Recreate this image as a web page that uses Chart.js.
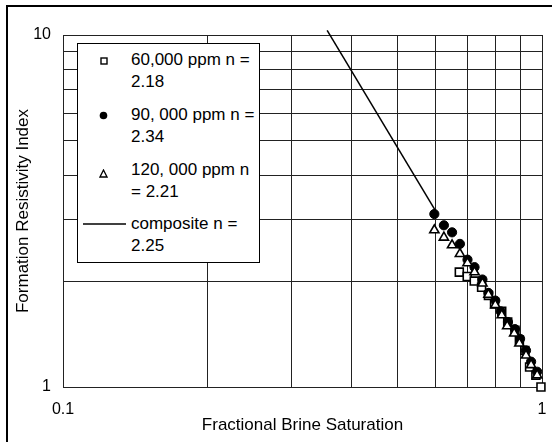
<!DOCTYPE html>
<html>
<head>
<meta charset="utf-8">
<script src="https://cdn.jsdelivr.net/npm/chart.js@4.4.0/dist/chart.umd.min.js"></script>
<style>
  html, body { margin: 0; padding: 0; background: #fff; overflow: hidden; }
  #wrap { position: relative; width: 552px; height: 442px; }
  #frame { position: absolute; left: 6px; top: 5px; width: 600px; height: 500px;
    border-left: 2px solid #000; border-top: 2px solid #000; }
  #chart { position: absolute; left: 0; top: 0; }
  #legend { position: absolute; left: 77px; top: 43px; width: 181px; height: 218px;
    border: 1px solid #000; background: #fff;
    font-family: "Liberation Sans", Arial, sans-serif; font-size: 17px; color: #000; }
  .item { position: absolute; left: 53px; line-height: 22px; white-space: nowrap; }
  .sym { position: absolute; }
</style>
</head>
<body>
<div id="wrap">
  <div id="frame"></div>
  <canvas id="chart" width="552" height="442"></canvas>
  <div id="legend"></div>
</div>
<script>
// axis ranges, grid lines and labelled ticks
const xRange = [0.1, 1];
const yRange = [1, 10];
const xGrid = [0.1, 0.2, 0.3, 0.4, 0.5, 0.6, 0.7, 0.8, 0.9, 1];
const yGrid = [1, 2, 3, 4, 5, 6, 7, 8, 9, 10];
const xTickLabels = [0.1, 1];
const yTickLabels = [1, 10];

// 60,000 ppm
const sw60 = [0.672, 0.698, 0.722, 0.748, 0.773, 0.796, 0.824, 0.848, 0.878, 0.897, 0.921, 0.942, 0.971, 0.995];
const ri60 = [2.12, 2.06, 2.00, 1.92, 1.82, 1.72, 1.64, 1.53, 1.45, 1.36, 1.27, 1.14, 1.08, 1.00];

// 90,000 ppm
const sw90 = [0.596, 0.624, 0.649, 0.674, 0.699, 0.723, 0.751, 0.773, 0.799, 0.820, 0.849, 0.878, 0.900, 0.926, 0.949, 0.977];
const ri90 = [3.10, 2.88, 2.75, 2.55, 2.30, 2.19, 2.02, 1.85, 1.76, 1.64, 1.53, 1.46, 1.37, 1.27, 1.18, 1.105];

// 120,000 ppm
const sw120 = [0.596, 0.624, 0.649, 0.674, 0.699, 0.723, 0.751, 0.773, 0.799, 0.824, 0.846, 0.875, 0.897, 0.926, 0.949, 0.977];
const ri120 = [2.79, 2.66, 2.53, 2.39, 2.25, 2.12, 1.97, 1.83, 1.71, 1.60, 1.49, 1.42, 1.33, 1.23, 1.155, 1.08];

// composite fit line (end points)
const swComposite = [0.356, 0.60];
const riComposite = [10.3, 3.16];

const legendLabels = [
  ["60,000 ppm n =", "2.18"],
  ["90, 000 ppm n =", "2.34"],
  ["120, 000 ppm n", "= 2.21"],
  ["composite n =", "2.25"]
];

function pairs(xs, ys) {
  return xs.map((x, i) => ({ x: x, y: ys[i] }));
}

function noPadding(s) {
  s.paddingLeft = 0;
  s.paddingRight = 0;
  s.paddingTop = 0;
  s.paddingBottom = 0;
}

const font = "'Liberation Sans', Arial, sans-serif";

// first dataset is drawn on top
const chart = new Chart(document.getElementById("chart"), {
  type: "scatter",
  data: {
    datasets: [
      {
        label: legendLabels[2].join(" "),
        data: pairs(sw120, ri120),
        pointStyle: "triangle",
        pointRadius: 5.3,
        pointBackgroundColor: "#fff",
        pointBorderColor: "#000",
        pointBorderWidth: 1.6,
        clip: 10
      },
      {
        label: legendLabels[1].join(" "),
        data: pairs(sw90, ri90),
        pointStyle: "circle",
        pointRadius: 4.6,
        pointBackgroundColor: "#000",
        pointBorderColor: "#000",
        pointBorderWidth: 1,
        clip: 10
      },
      {
        label: legendLabels[0].join(" "),
        data: pairs(sw60, ri60),
        pointStyle: "rect",
        pointRadius: 5.6,
        pointBackgroundColor: "#fff",
        pointBorderColor: "#000",
        pointBorderWidth: 1.6,
        clip: 10
      },
      {
        label: legendLabels[3].join(" "),
        data: pairs(swComposite, riComposite),
        showLine: true,
        borderColor: "#000",
        borderWidth: 1.5,
        pointRadius: 0,
        clip: 10
      }
    ]
  },
  options: {
    responsive: false,
    animation: false,
    layout: { padding: { left: 0, right: 10, top: 35, bottom: 0 } },
    plugins: { legend: { display: false }, tooltip: { enabled: false } },
    scales: {
      x: {
        type: "logarithmic",
        min: xRange[0],
        max: xRange[1],
        afterBuildTicks: s => { s.ticks = xGrid.map(v => ({ value: v })); },
        afterFit: s => { s.height = 55; noPadding(s); },
        grid: { color: "#222", lineWidth: 1, drawTicks: false },
        border: { color: "#222", width: 1 },
        ticks: {
          autoSkip: false,
          maxRotation: 0,
          padding: 13,
          color: "#000",
          font: { family: font, size: 16 },
          callback: v => xTickLabels.some(t => Math.abs(t - v) < 1e-9) ? String(v) : ""
        },
        title: {
          display: true,
          text: "Fractional Brine Saturation",
          color: "#000",
          font: { family: font, size: 17 },
          padding: { top: 0, bottom: 6 }
        }
      },
      y: {
        type: "logarithmic",
        min: yRange[0],
        max: yRange[1],
        afterBuildTicks: s => { s.ticks = yGrid.map(v => ({ value: v })); },
        afterFit: s => { s.width = 63; noPadding(s); },
        grid: { color: "#222", lineWidth: 1, drawTicks: false },
        border: { color: "#222", width: 1 },
        ticks: {
          autoSkip: false,
          padding: 12,
          color: "#000",
          font: { family: font, size: 16 },
          callback: v => yTickLabels.some(t => Math.abs(t - v) < 1e-9) ? String(v) : ""
        },
        title: {
          display: true,
          text: "Formation Resistivity Index",
          color: "#000",
          font: { family: font, size: 17 },
          padding: { top: 13, bottom: 0 }
        }
      }
    }
  }
});

// legend box with wrapped entries
const legend = document.getElementById("legend");
const symbols = [
  '<svg class="sym" style="left:22px;top:13px" width="8" height="8"><rect x="1" y="1" width="6" height="6" fill="#fff" stroke="#000" stroke-width="1.4"/></svg>',
  '<svg class="sym" style="left:21px;top:67px" width="9" height="9"><circle cx="4.5" cy="4.5" r="3.8" fill="#000"/></svg>',
  '<svg class="sym" style="left:21px;top:125px" width="9" height="9"><polygon points="4.5,1 8,8 1,8" fill="#fff" stroke="#000" stroke-width="1.3"/></svg>',
  '<svg class="sym" style="left:5px;top:175px" width="44" height="10"><line x1="0" y1="5" x2="43" y2="5" stroke="#000" stroke-width="1.3"/></svg>'
];
const tops = [5, 60, 115, 169];
legendLabels.forEach((lines, i) => {
  const div = document.createElement("div");
  div.className = "item";
  div.style.top = tops[i] + "px";
  div.innerHTML = lines.join("<br>");
  legend.appendChild(div);
  legend.insertAdjacentHTML("beforeend", symbols[i]);
});
</script>
</body>
</html>
